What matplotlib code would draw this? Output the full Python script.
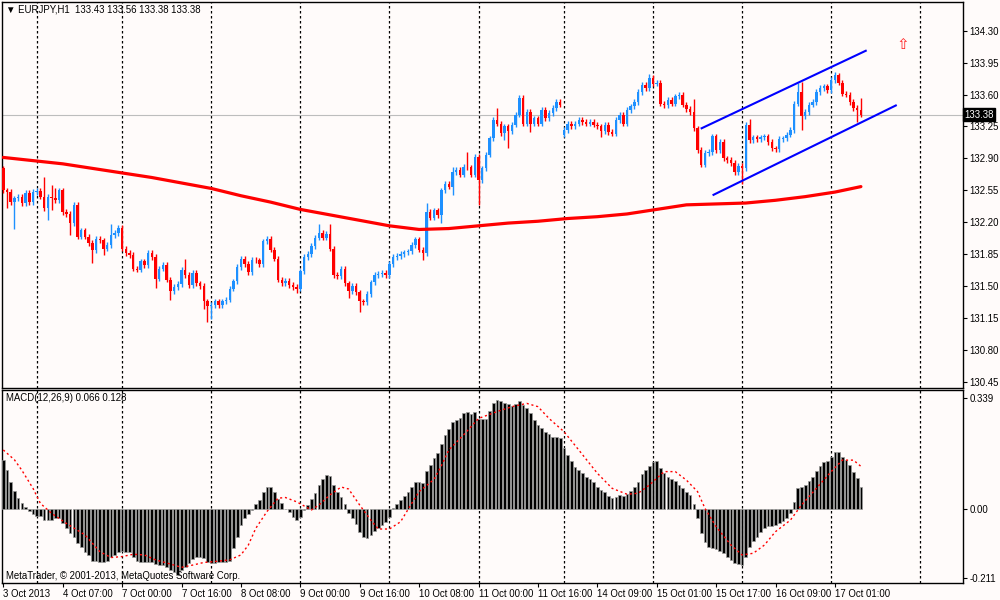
import matplotlib
matplotlib.use("Agg")
import matplotlib.pyplot as plt
import matplotlib.transforms as mtransforms

plt.rcParams['font.family'] = ['Liberation Sans', 'DejaVu Sans']

# EURJPY H1 closes, bar 0 = 3 Oct 2013 15:00
first_open = 132.79
closes = [
    132.55, 132.53, 132.42, 132.46, 132.48, 132.41, 132.52, 132.42, 132.53, 132.54,
    132.48, 132.35, 132.48, 132.47, 132.44, 132.55, 132.31, 132.29, 132.19, 132.39,
    132.04, 132.11, 132.04, 131.97, 131.89, 132.02, 132.00, 131.91, 131.95, 132.06,
    132.08, 132.14, 131.91, 131.86, 131.84, 131.69, 131.68, 131.77, 131.73, 131.86,
    131.82, 131.58, 131.69, 131.73, 131.57, 131.44, 131.49, 131.52, 131.68, 131.62,
    131.51, 131.64, 131.53, 131.50, 131.33, 131.28, 131.29, 131.33, 131.29, 131.33,
    131.35, 131.47, 131.55, 131.71, 131.80, 131.74, 131.65, 131.79, 131.78, 131.74,
    131.99, 132.02, 131.90, 131.80, 131.57, 131.53, 131.56, 131.51, 131.49, 131.47,
    131.66, 131.82, 131.85, 131.94, 132.03, 132.08, 132.03, 132.07, 131.91, 131.62,
    131.61, 131.69, 131.53, 131.44, 131.50, 131.43, 131.33, 131.32, 131.41, 131.54,
    131.62, 131.63, 131.64, 131.62, 131.74, 131.82, 131.83, 131.85, 131.87, 131.88,
    131.95, 132.01, 131.90, 131.86, 132.31, 132.25, 132.33, 132.28, 132.55, 132.62,
    132.59, 132.75, 132.77, 132.72, 132.81, 132.80, 132.72, 132.92, 132.66, 132.79,
    132.94, 133.12, 133.32, 133.28, 133.18, 133.25, 133.20, 133.27, 133.38, 133.56,
    133.28, 133.41, 133.28, 133.34, 133.28, 133.43, 133.34, 133.40, 133.45, 133.52,
    133.49, 133.21, 133.28, 133.25, 133.28, 133.32, 133.30, 133.28, 133.30, 133.27,
    133.25, 133.20, 133.27, 133.19, 133.17, 133.32, 133.38, 133.28, 133.43, 133.47,
    133.52, 133.63, 133.71, 133.67, 133.78, 133.72, 133.73, 133.50, 133.48, 133.54,
    133.50, 133.58, 133.60, 133.49, 133.44, 133.41, 133.23, 132.99, 132.83, 132.96,
    132.97, 133.14, 132.99, 133.08, 132.90, 132.88, 132.85, 132.75, 132.82, 132.79,
    133.27, 133.10, 133.13, 133.11, 133.13, 133.14, 133.08, 133.01, 133.00, 133.11,
    133.12, 133.16, 133.21, 133.50, 133.63, 133.36, 133.41, 133.49, 133.52, 133.63,
    133.67, 133.69, 133.65, 133.76, 133.81, 133.73, 133.61, 133.60, 133.52, 133.45,
    133.43, 133.38,
]
gap_opens = {151: 133.16}
wick = 0.03
long_highs = {0: 132.80, 11: 132.69, 13: 132.61, 14: 132.57, 16: 132.55, 29: 132.18,
              49: 131.80, 85: 132.18, 88: 132.18, 114: 132.41, 121: 132.81, 125: 132.97,
              133: 133.45, 139: 133.60, 174: 133.83, 186: 133.55, 201: 133.33,
              214: 133.73, 215: 133.74, 224: 133.85, 225: 133.83, 231: 133.56}
long_lows = {1: 132.35, 3: 132.13, 12: 132.22, 13: 132.33, 18: 132.06, 24: 131.75,
             27: 131.84, 41: 131.48, 45: 131.35, 54: 131.25, 55: 131.11, 56: 131.14,
             79: 131.42, 93: 131.365, 96: 131.22, 113: 131.78, 118: 132.19, 121: 132.50,
             128: 132.39, 135: 133.10, 136: 133.01, 142: 133.19, 151: 133.14,
             161: 133.13, 199: 132.62, 215: 133.21, 230: 133.30, 231: 133.38}

# moving average (red thick line)
ma_bars = [0, 8, 16, 24, 32, 40, 48, 56, 64, 72, 80, 88, 96, 104, 112, 120, 128,
           136, 144, 152, 160, 168, 176, 184, 192, 200, 208, 216, 224, 231]
ma_vals = [132.91, 132.875, 132.84, 132.79, 132.74, 132.69, 132.63, 132.57, 132.49,
           132.42, 132.34, 132.28, 132.22, 132.16, 132.12, 132.13, 132.16, 132.19,
           132.21, 132.24, 132.26, 132.29, 132.34, 132.39, 132.40, 132.41, 132.44,
           132.48, 132.53, 132.59]

# trend channel
upper_bars, upper_vals = [188.1, 232.3], [133.23, 134.08]
lower_bars, lower_vals = [191.3, 240.4], [132.50, 133.48]
arrow_bar, arrow_price = 242.4, 134.15

macd_hist = [
    0.149, 0.119, 0.081, 0.056, 0.033, 0.017, 0.007, -0.005, -0.016, -0.020,
    -0.020, -0.034, -0.034, -0.034, -0.026, -0.026, -0.044, -0.059, -0.074, -0.084,
    -0.105, -0.115, -0.130, -0.140, -0.159, -0.159, -0.161, -0.163, -0.159, -0.145,
    -0.140, -0.130, -0.128, -0.132, -0.132, -0.145, -0.158, -0.161, -0.161, -0.163,
    -0.163, -0.169, -0.171, -0.171, -0.176, -0.186, -0.191, -0.201, -0.186, -0.176,
    -0.166, -0.152, -0.145, -0.145, -0.150, -0.161, -0.166, -0.166, -0.163, -0.161,
    -0.161, -0.159, -0.120, -0.084, -0.049, -0.028, -0.016, -0.003, 0.014, 0.027,
    0.053, 0.068, 0.068, 0.053, 0.030, 0.017, 0.000, -0.010, -0.023, -0.034,
    -0.023, -0.003, 0.012, 0.030, 0.048, 0.073, 0.091, 0.104, 0.102, 0.073,
    0.053, 0.038, 0.014, -0.013, -0.028, -0.047, -0.071, -0.084, -0.089, -0.079,
    -0.067, -0.059, -0.049, -0.039, -0.023, 0.002, 0.014, 0.027, 0.041, 0.051,
    0.068, 0.081, 0.081, 0.078, 0.116, 0.134, 0.157, 0.170, 0.197, 0.226,
    0.243, 0.266, 0.272, 0.278, 0.292, 0.295, 0.289, 0.295, 0.274, 0.274,
    0.274, 0.299, 0.322, 0.332, 0.329, 0.324, 0.319, 0.315, 0.319, 0.329,
    0.317, 0.307, 0.292, 0.271, 0.256, 0.248, 0.236, 0.229, 0.221, 0.221,
    0.215, 0.185, 0.165, 0.146, 0.129, 0.119, 0.109, 0.099, 0.091, 0.081,
    0.068, 0.058, 0.051, 0.041, 0.033, 0.038, 0.043, 0.041, 0.045, 0.055,
    0.068, 0.083, 0.106, 0.119, 0.132, 0.142, 0.146, 0.126, 0.109, 0.099,
    0.091, 0.085, 0.073, 0.065, 0.051, 0.043, 0.014, -0.028, -0.074, -0.100,
    -0.115, -0.120, -0.122, -0.128, -0.135, -0.145, -0.155, -0.166, -0.169, -0.171,
    -0.145, -0.115, -0.098, -0.084, -0.071, -0.059, -0.051, -0.051, -0.049, -0.044,
    -0.037, -0.028, -0.013, 0.022, 0.063, 0.068, 0.073, 0.085, 0.099, 0.116,
    0.132, 0.142, 0.146, 0.160, 0.173, 0.173, 0.160, 0.149, 0.134, 0.112,
    0.093, 0.066,
]
signal_bars = [0, 3, 5, 8, 10, 13, 17, 22, 26, 29, 32, 35, 38, 41, 46, 48, 51, 54, 58,
               61, 64, 66, 68, 71, 74, 76, 79, 83, 85, 88, 91, 93, 96, 99, 101, 104,
               107, 110, 112, 116, 118, 120, 124, 128, 133, 137, 141, 144, 147, 151,
               155, 160, 164, 168, 171, 174, 178, 181, 184, 187, 189, 192, 196, 199,
               202, 205, 208, 212, 215, 219, 223, 226, 229, 231]
signal_vals = [0.180, 0.150, 0.118, 0.063, 0.017, -0.013, -0.044, -0.079, -0.130,
               -0.148, -0.145, -0.138, -0.140, -0.155, -0.171, -0.178, -0.171, -0.163,
               -0.159, -0.155, -0.140, -0.110, -0.059, -0.008, 0.033, 0.035, 0.022,
               -0.003, 0.012, 0.043, 0.067, 0.061, 0.012, -0.034, -0.061, -0.061,
               -0.039, 0.017, 0.053, 0.090, 0.132, 0.180, 0.226, 0.276, 0.297, 0.312,
               0.322, 0.312, 0.276, 0.236, 0.180, 0.109, 0.063, 0.045, 0.048, 0.073,
               0.114, 0.114, 0.088, 0.053, 0.002, -0.054, -0.110, -0.140, -0.135,
               -0.110, -0.069, -0.034, 0.012, 0.063, 0.114, 0.149, 0.149, 0.130]

date_ticks = [0, 16, 32, 48, 64, 80, 96, 112, 128, 144, 160, 176, 192, 208, 224]
date_labels = ['3 Oct 2013', '4 Oct 07:00', '7 Oct 00:00', '7 Oct 16:00', '8 Oct 08:00',
               '9 Oct 00:00', '9 Oct 16:00', '10 Oct 08:00', '11 Oct 00:00',
               '11 Oct 16:00', '14 Oct 09:00', '15 Oct 01:00', '15 Oct 17:00',
               '16 Oct 09:00', '17 Oct 01:00']
grid_bars = [9, 32, 56, 80, 104, 128, 151, 175, 199, 223, 247]
price_ticks = [134.30, 133.95, 133.60, 133.25, 132.90, 132.55, 132.20, 131.85,
               131.50, 131.15, 130.80, 130.45]
macd_ticks = [0.339, 0.0, -0.211]
last_price = 133.38

bg = '#FFFBFA'
bull, bear = '#1E90FF', '#FF0000'
fs = 6.9

fig = plt.figure(figsize=(10, 6), dpi=100, facecolor=bg)
ax1 = fig.add_axes([0.002, 212 / 600, 0.961, 386 / 600], facecolor=bg)
ax2 = fig.add_axes([0.002, 17 / 600, 0.961, 193 / 600], facecolor=bg)

xlim = (-0.35, 258.5)
for ax in (ax1, ax2):
    ax.set_xlim(*xlim)
    for b in grid_bars:
        ax.axvline(b, color='black', lw=0.9, ls=(0, (2, 2)), zorder=1)
    for s in ax.spines.values():
        s.set_color('black')
        s.set_linewidth(1.0)
    ax.yaxis.tick_right()
    ax.tick_params(axis='y', direction='out', length=3, width=0.8, labelsize=fs,
                   pad=1.5, colors='black')

# candles
n = len(closes)
opens = [first_open] + closes[:-1]
for b, o in gap_opens.items():
    opens[b] = o
for i in range(n):
    o, c = opens[i], closes[i]
    col = bull if c >= o else bear
    hi = max(max(o, c) + wick, long_highs.get(i, 0))
    lo = min(min(o, c) - wick, long_lows.get(i, 1e9))
    ax1.vlines(i, lo, hi, color=col, lw=1.0, zorder=3)
    body = max(abs(c - o), 0.008)
    ax1.bar(i, body, bottom=min(o, c), width=0.66, color=col, lw=0, zorder=4)

ax1.plot(ma_bars, ma_vals, color='#FF0000', lw=2.3, solid_capstyle='round', zorder=5)
ax1.plot(upper_bars, upper_vals, color='#0000FF', lw=1.5, zorder=6)
ax1.plot(lower_bars, lower_vals, color='#0000FF', lw=1.5, zorder=6)
ax1.axhline(last_price, color='#BDBDBD', lw=0.8, zorder=2)
ax1.text(arrow_bar, arrow_price, '\u21e7', color='#FF2020', fontsize=11,
         family='DejaVu Sans', ha='center', va='center', zorder=7)

ax1.set_ylim(130.381, 134.615)
ax1.set_yticks(price_ticks)
ax1.set_yticklabels(['%.2f' % p for p in price_ticks])
ax1.set_xticks([])

trans = mtransforms.blended_transform_factory(ax1.transAxes, ax1.transData)
ax1.text(1.0015, last_price, '%.2f' % last_price, transform=trans, color='white',
         fontsize=fs, va='center', ha='left', zorder=10,
         bbox=dict(boxstyle='square,pad=0.15', facecolor='black', edgecolor='black'))

fig.text(0.006, 1 - 10 / 600, '\u25bc EURJPY,H1  133.43 133.56 133.38 133.38',
         fontsize=fs, va='center', ha='left')

# MACD
ax2.bar(range(len(macd_hist)), macd_hist, width=0.72, color='black',
        edgecolor='#9A9A9A', lw=0.5, zorder=3)
ax2.plot(signal_bars, signal_vals, color='#FF0000', lw=1.0, ls=(0, (1.5, 2)), zorder=4)
ax2.set_ylim(-0.2256, 0.3628)
ax2.set_yticks(macd_ticks)
ax2.set_yticklabels(['0.339', '0.00', '-0.211'])
ax2.set_xticks(date_ticks)
ax2.set_xticklabels(date_labels, fontsize=fs)
for lbl in ax2.get_xticklabels():
    lbl.set_ha('left')
ax2.tick_params(axis='x', direction='out', length=3, width=0.8, pad=1.5)

fig.text(0.006, 1 - 398 / 600, 'MACD(12,26,9) 0.066 0.128', fontsize=fs,
         va='center', ha='left')
fig.text(0.006, 1 - 576 / 600, 'MetaTrader, \u00a9 2001-2013, MetaQuotes Software Corp.',
         fontsize=fs, va='center', ha='left')

fig.savefig('out.png', dpi=100, facecolor=bg)
